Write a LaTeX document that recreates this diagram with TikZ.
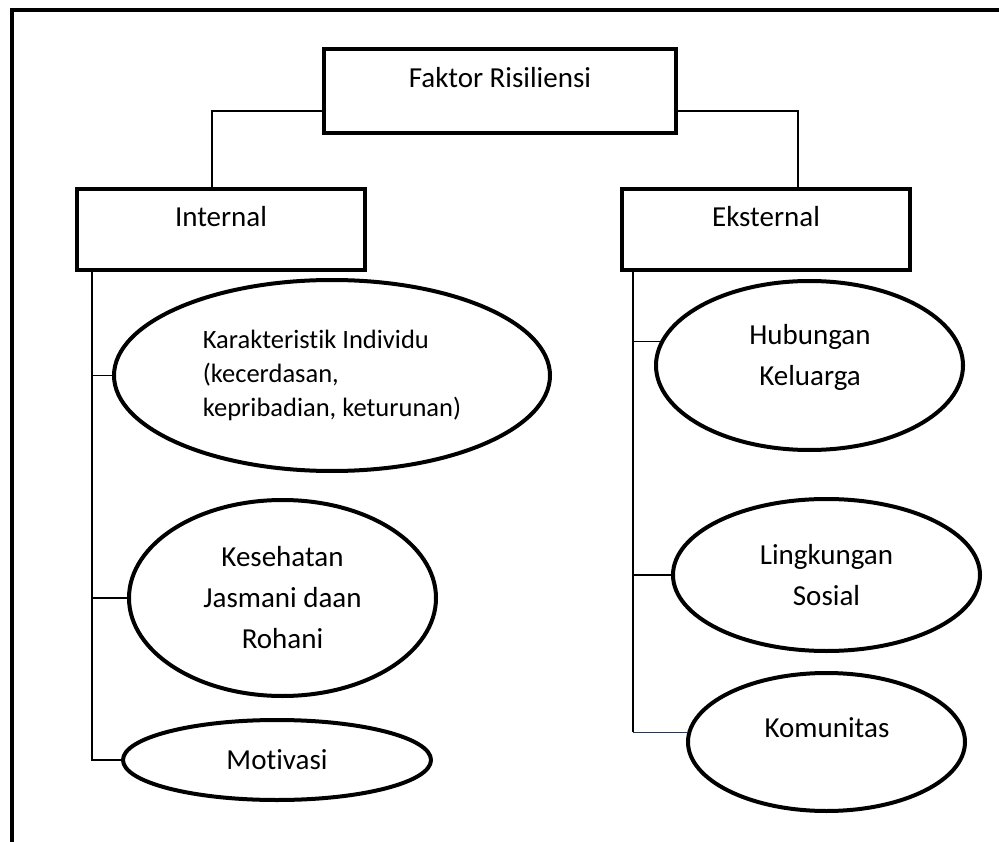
\documentclass[tikz,border=0pt]{standalone}
\usepackage{fontspec}
\setmainfont[Ligatures=NoCommon]{Carlito}
\usetikzlibrary{shapes.geometric}
\definecolor{linkblue}{RGB}{31,56,100}
\begin{document}
\begin{tikzpicture}[x=1pt,y=-1pt,
  box/.style={draw, line width=4pt, rectangle, inner sep=0pt,
    font=\fontsize{29}{41}\selectfont, text height=21pt, text depth=27pt},
  oval/.style={draw, line width=4pt, ellipse, inner sep=0pt, align=center,
    font=\fontsize{29}{41}\selectfont},
  lbl/.style={inner sep=0pt, align=center, font=\fontsize{29}{41}\selectfont},
  conn/.style={line width=1.3pt},
  frameline/.style={line width=4pt}]
\clip (0,0) rectangle (999,842);
\draw[frameline] (12,870) -- (12,10) -- (1030,10);

% boxes
\node[box, minimum width=352pt, minimum height=84pt] (fak) at (500,91) {Faktor Risiliensi};
\node[box, minimum width=288pt, minimum height=81pt] (int) at (221,229.5) {Internal};
\node[box, minimum width=288pt, minimum height=81pt] (eks) at (766,229.5) {Eksternal};

% internal ellipses
\node[oval, align=left, font=\fontsize{26.5}{34}\selectfont,
  minimum width=436pt, minimum height=191pt] (kar) at (332,375.5)
  {Karakteristik Individu\\(kecerdasan,\\kepribadian, keturunan)};
\node[oval, minimum width=307pt, minimum height=196pt] (kes) at (282.5,598)
  {Kesehatan\\Jasmani daan\\Rohani};
\node[oval, minimum width=308pt, minimum height=80pt] (mot) at (277,760) {Motivasi};

% external ellipses
\node[oval, minimum width=307pt, minimum height=169pt] (hub) at (809.5,365.5) {};
\node[lbl] (hubt) at (810,357) {Hubungan\\Keluarga};
\node[oval, minimum width=307pt, minimum height=152pt] (lin) at (826.5,575)
  {Lingkungan\\Sosial};
\node[oval, minimum width=277pt, minimum height=138pt] (kom) at (826.5,742) {};
\node[lbl] (komt) at (827,728) {Komunitas};

% connectors from the top box
\draw[conn] (fak.west |- 0,111) -| (int.north -| 212,0);
\draw[conn] (fak.east |- 0,111) -| (eks.north -| 798,0);

% internal trunk and branches
\draw[conn] (int.south -| 92,0) |- (mot.west);
\draw[conn] (kar.west -| 92,0) -- (kar.west);
\draw[conn] (kes.west -| 92,0) -- (kes.west);

% external trunk and branches
\draw[conn] (eks.south -| 633,0) -- (kom.176 -| 633,0);
\draw[conn] (hub.171 -| 633,0) -- (hub.171);
\draw[conn] (lin.west -| 633,0) -- (lin.west);
\draw[conn, linkblue] (kom.176 -| 633,0) -- (kom.176);
\end{tikzpicture}
\end{document}
